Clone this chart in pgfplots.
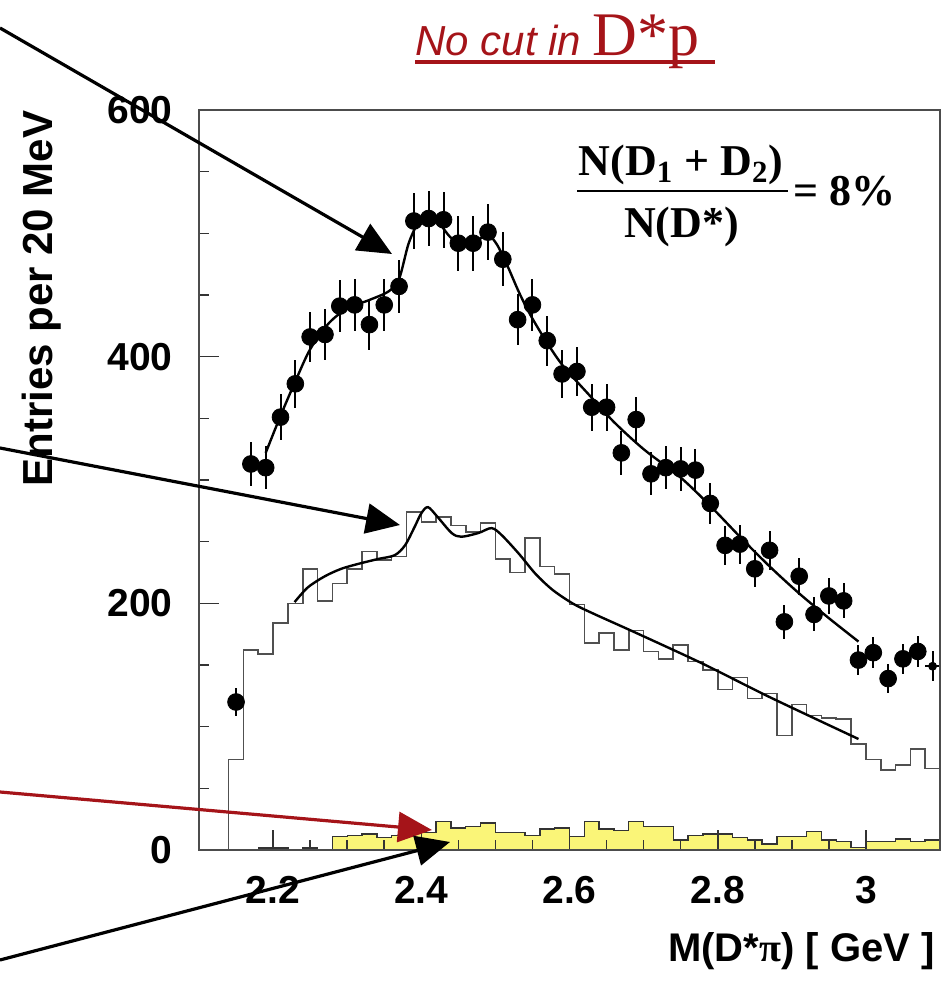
\documentclass[border=0pt]{standalone}
\usepackage{fontspec}
\usepackage{pgfplots}
\pgfplotsset{compat=1.18}
\usetikzlibrary{arrows.meta}
\newfontfamily\lsans{Liberation Sans}
\newfontfamily\lserif{Liberation Serif}
\definecolor{histyellow}{RGB}{250,245,120}
\definecolor{darkred}{RGB}{165,20,25}
\definecolor{histgray}{RGB}{80,80,80}

\begin{document}
\begin{tikzpicture}
\useasboundingbox (0,0) rectangle (476pt,490.5pt);
\begin{axis}[
  at={(99.5pt,65.5pt)}, anchor=south west,
  scale only axis, width=370.5pt, height=370pt,
  xmin=2.1, xmax=3.1, ymin=0, ymax=600,
  xtick={2.2,2.4,2.6,2.8,3.0}, minor x tick num=3,
  ytick={0,200,400,600}, minor y tick num=3,
  tick pos=left, tick align=inside,
  major tick length=10pt, minor tick length=5pt,
  axis line style={line width=1pt, black!70},
  tick style={black!80, line width=0.8pt},
  /pgf/number format/assume math mode=true,
  tick label style={font=\lsans\bfseries\fontsize{19.5}{21}\selectfont, inner sep=0pt},
  xticklabel style={anchor=north, yshift=-13pt},
  yticklabel style={anchor=east, xshift=-13pt},
  axis on top,
]
% yellow (filled) histogram
\addplot[const plot, fill=histyellow, draw=black!80, line width=0.7pt] coordinates {
(2.14,0) (2.16,0) (2.18,1.5) (2.20,1.5) (2.22,0) (2.24,1.5) (2.26,0)
(2.28,11) (2.30,12) (2.32,13) (2.34,10) (2.36,12) (2.38,14) (2.40,14)
(2.42,23) (2.44,18) (2.46,19) (2.48,22) (2.50,14) (2.52,14) (2.54,12)
(2.56,17) (2.58,18) (2.60,11) (2.62,23) (2.64,17) (2.66,16) (2.68,23)
(2.70,19) (2.72,19) (2.74,8) (2.76,12) (2.78,13) (2.80,13) (2.82,10)
(2.84,8) (2.86,5) (2.88,11) (2.90,11) (2.92,15) (2.94,8) (2.96,7)
(2.98,2) (3.00,7) (3.02,7) (3.04,9) (3.06,7) (3.08,8) (3.10,8)
} \closedcycle;
% open histogram
\addplot[const plot, draw=histgray, line width=0.8pt] coordinates {
(2.14,0) (2.14,73.5) (2.16,162) (2.18,159) (2.20,184) (2.22,200) (2.24,228)
(2.26,202) (2.28,216) (2.30,228) (2.32,242) (2.34,235) (2.36,238)
(2.38,274) (2.40,266) (2.42,270) (2.44,263) (2.46,258) (2.48,265)
(2.50,236) (2.52,225) (2.54,253) (2.56,230) (2.58,224) (2.60,199)
(2.62,168) (2.64,176) (2.66,162) (2.68,178) (2.70,161) (2.72,155)
(2.74,166) (2.76,153) (2.78,146) (2.80,130) (2.82,140) (2.84,123)
(2.86,127) (2.88,93) (2.90,118) (2.92,109) (2.94,107) (2.96,106)
(2.98,86) (3.00,73.5) (3.02,65) (3.04,69) (3.06,82) (3.08,66) (3.10,66)
};
% fit to histogram
\addplot[smooth, tension=0.5, black, line width=1.2pt] coordinates {
(2.229,201) (2.247,213) (2.27,222) (2.292,228) (2.315,232) (2.342,236)
(2.364,239) (2.378,247) (2.391,262) (2.400,273) (2.409,278) (2.422,270)
(2.441,257) (2.454,254) (2.477,257) (2.495,261) (2.509,255) (2.532,240)
(2.554,224) (2.577,211) (2.604,200) (2.631,192) (2.69,176) (2.78,151)
(2.87,124) (2.99,90)
};
% fit to data
\addplot[smooth, tension=0.5, black, line width=1.2pt] coordinates {
(2.19,322) (2.21,352) (2.23,380) (2.25,406) (2.275,427) (2.30,439)
(2.33,446) (2.356,453) (2.37,463) (2.383,492) (2.397,510) (2.41,515)
(2.422,510) (2.439,497) (2.455,491) (2.471,492) (2.489,499) (2.502,491)
(2.516,474) (2.532,452) (2.548,433) (2.57,411) (2.592,392) (2.628,368)
(2.66,347) (2.70,325) (2.75,302) (2.79,279) (2.83,254) (2.87,230)
(2.91,208) (2.95,188) (2.99,169)
};
% data points
\addplot[only marks, mark=*, mark size=4.2pt, black,
  error bars/.cd, y dir=both, y explicit, error mark=none,
  error bar style={line width=1pt, black}]
  table[x=x, y=y, y error=e] {
x y e
2.15 120 11
2.17 313 17.7
2.19 310 17.6
2.21 351 18.7
2.23 378 19.4
2.25 416 20.4
2.27 418 20.4
2.29 441 21
2.31 442 21
2.33 426 20.6
2.35 442 21
2.37 457 21.4
2.39 510 22.6
2.41 512 22.6
2.43 511 22.6
2.45 492 22.2
2.47 492 22.2
2.49 501 22.4
2.51 479 21.9
2.53 430 20.7
2.55 442 21
2.57 413 20.3
2.59 386 19.6
2.61 388 19.7
2.63 359 18.9
2.65 359 18.9
2.67 322 17.9
2.69 349 18.7
2.71 305 17.5
2.73 310 17.6
2.75 309 17.6
2.77 308 17.5
2.79 281 16.8
2.81 247 15.7
2.83 248 15.7
2.85 228 15.1
2.87 243 15.6
2.89 185 13.6
2.91 222 14.9
2.93 191 13.8
2.95 206 14.4
2.97 202 14.2
2.99 154 12.4
3.01 160 12.6
3.03 139 11.8
3.05 155 12.4
3.07 161 12.7
};
% last bin: cross only
\addplot[only marks, mark=none, black,
  error bars/.cd, x dir=both, x explicit, y dir=both, y explicit, error mark=none,
  error bar style={line width=1pt, black}]
  coordinates {(3.09,149) +- (0.01,12.2)};
\end{axis}

\begin{scope}[x=0.5pt, y=-0.5pt, yshift=490.5pt]
% title
\node[anchor=base west, text=darkred, inner sep=0pt] at (415,56)
  {\lsans\itshape\fontsize{21}{24}\selectfont No cut in \lserif\upshape\fontsize{31}{33}\selectfont D*p};
\draw[darkred, line width=1.6pt] (415,62) -- (715,62);
% ratio annotation
\node[anchor=base, inner sep=0pt] at (681,176)
  {\lserif\bfseries\fontsize{22}{24}\selectfont N(D\textsubscript{1} + D\textsubscript{2})};
\draw[line width=1pt] (577,191.5) -- (788,191.5);
\node[anchor=base, inner sep=0pt] at (681.5,238)
  {\lserif\bfseries\fontsize{22}{24}\selectfont N(D*)};
\node[anchor=base west, inner sep=0pt] at (793,206)
  {\lserif\bfseries\fontsize{22}{24}\selectfont = 8\%};
% axis labels
\node[rotate=90, anchor=base west, inner sep=0pt] at (52,487)
  {\lsans\bfseries\fontsize{21}{23}\selectfont Entries per 20 MeV};
\node[anchor=base east, inner sep=0pt] at (935,962)
  {\lsans\bfseries\fontsize{20}{22}\selectfont M(D*{\lserif π}) [ GeV ]};
% annotation arrows
\draw[black, line width=1.6pt, -{Triangle[length=17pt,width=15pt]}] (0,28) -- (392,254);
\draw[black, line width=1.6pt, -{Triangle[length=17pt,width=15pt]}] (0,448) -- (400,525);
\draw[darkred, line width=1.6pt, -{Triangle[length=17pt,width=15pt]}] (0,792) -- (432,830);
\draw[black, line width=1.6pt, -{Triangle[length=17pt,width=15pt]}] (0,960) -- (450,842);
\end{scope}
\end{tikzpicture}
\end{document}
